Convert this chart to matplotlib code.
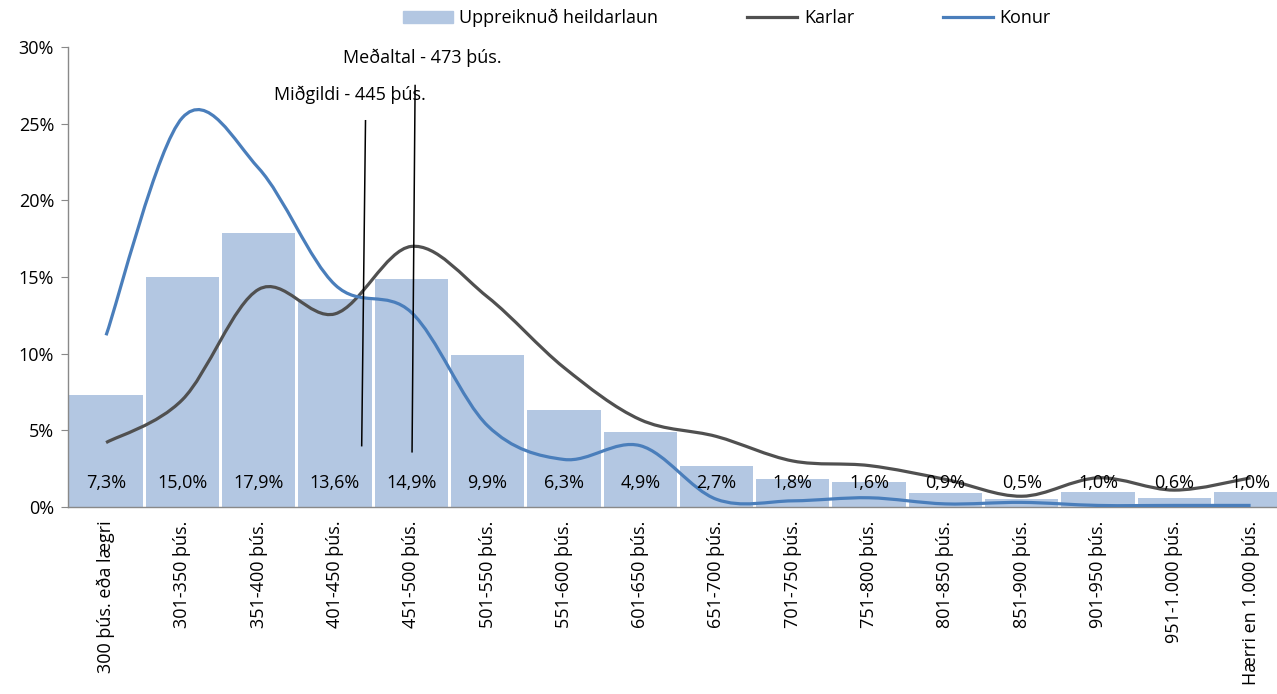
import matplotlib
matplotlib.use("Agg")
import matplotlib.pyplot as plt
from matplotlib.path import Path
import matplotlib.patches as mpatches
from matplotlib.lines import Line2D
import numpy as np

# ── Gögn ──────────────────────────────────────────────────────────────────────
categories = [
    "300 þús. eða lægri", "301-350 þús.", "351-400 þús.", "401-450 þús.",
    "451-500 þús.", "501-550 þús.", "551-600 þús.", "601-650 þús.",
    "651-700 þús.", "701-750 þús.", "751-800 þús.", "801-850 þús.",
    "851-900 þús.", "901-950 þús.", "951-1.000 þús.", "Hærri en 1.000 þús.",
]
heildarlaun = [7.3, 15.0, 17.9, 13.6, 14.9, 9.9, 6.3, 4.9,
               2.7, 1.8, 1.6, 0.9, 0.5, 1.0, 0.6, 1.0]
karlar = [4.2, 7.0, 14.2, 12.6, 17.0, 13.7, 9.1, 5.7,
          4.6, 3.0, 2.7, 1.8, 0.7, 1.9, 1.1, 1.9]
konur = [11.2, 25.4, 22.1, 14.5, 12.7, 5.3, 3.1, 4.0,
         0.5, 0.4, 0.6, 0.2, 0.3, 0.1, 0.1, 0.1]

# miðgildi / meðaltal línur (x í flokkum, y í %)
midgildi_x = [3.35, 3.40]
midgildi_y = [4.0, 25.2]
medaltal_x = [4.01, 4.05]
medaltal_y = [3.6, 27.5]

C_BAR = "#B3C7E2"
C_KARL = "#505050"
C_KONA = "#4A7EBB"
C_AXIS = "#898989"
FONT = "Open Sans"
FS = 13


def smooth_path(xs, ys):
    # Catmull-Rom -> Bezier, eins og "smoothed line" í Excel
    pts = np.column_stack([xs, ys]).astype(float)
    n = len(pts)
    verts = [pts[0]]
    codes = [Path.MOVETO]
    for i in range(n - 1):
        p0 = pts[i - 1] if i > 0 else pts[i]
        p1 = pts[i]
        p2 = pts[i + 1]
        p3 = pts[i + 2] if i + 2 < n else pts[i + 1]
        c1 = p1 + (p2 - p0) / 6.0
        c2 = p2 - (p3 - p1) / 6.0
        verts += [c1, c2, p2]
        codes += [Path.CURVE4] * 3
    return Path(verts, codes)


fig = plt.figure(figsize=(12.77, 6.94), dpi=100, facecolor="white")
ax = fig.add_axes([0.0532, 0.2695, 0.956, 0.6625])

x = np.arange(len(categories))
ax.bar(x, heildarlaun, width=0.96, color=C_BAR, edgecolor="none", zorder=1)

for series, color in [(karlar, C_KARL), (konur, C_KONA)]:
    p = mpatches.PathPatch(smooth_path(x, series), facecolor="none",
                           edgecolor=color, lw=2.3, zorder=3,
                           capstyle="butt")
    ax.add_patch(p)

for xi, v in zip(x, heildarlaun):
    ax.text(xi, 1.55, f"{v:.1f}%".replace(".", ","), ha="center", va="center",
            fontsize=FS, family=FONT, zorder=4)

ax.plot(midgildi_x, midgildi_y, color="black", lw=1.1, zorder=5)
ax.plot(medaltal_x, medaltal_y, color="black", lw=1.1, zorder=5)
ax.text(3.2, 26.9, "Miðgildi - 445 þús.", ha="center", va="center",
        fontsize=FS, family=FONT)
ax.text(4.15, 29.3, "Meðaltal - 473 þús.", ha="center", va="center",
        fontsize=FS, family=FONT)

ax.set_xlim(-0.5, 15.5)
ax.set_ylim(0, 30)
ax.set_yticks(range(0, 31, 5))
ax.set_yticklabels([f"{v}%" for v in range(0, 31, 5)], family=FONT, fontsize=FS)
ax.set_xticks(x)
ax.set_xticklabels(categories, rotation=90, family=FONT, fontsize=FS,
                   va="top", ha="center")
ax.tick_params(axis="x", length=0, pad=10)
ax.tick_params(axis="y", length=5, color=C_AXIS, pad=5)
for s in ["top", "right"]:
    ax.spines[s].set_visible(False)
for s in ["left", "bottom"]:
    ax.spines[s].set_color(C_AXIS)
    ax.spines[s].set_linewidth(1.0)

handles = [
    mpatches.Patch(color=C_BAR, label="Uppreiknuð heildarlaun"),
    Line2D([], [], color=C_KARL, lw=2.3, label="Karlar"),
    Line2D([], [], color=C_KONA, lw=2.3, label="Konur"),
]
fig.legend(handles=handles, loc="center", bbox_to_anchor=(0.569, 0.974),
           ncol=3, frameon=False, prop={"family": FONT, "size": FS},
           handlelength=2.8, handletextpad=0.35, columnspacing=4.9)

fig.savefig("out.png", dpi=100, facecolor="white")
